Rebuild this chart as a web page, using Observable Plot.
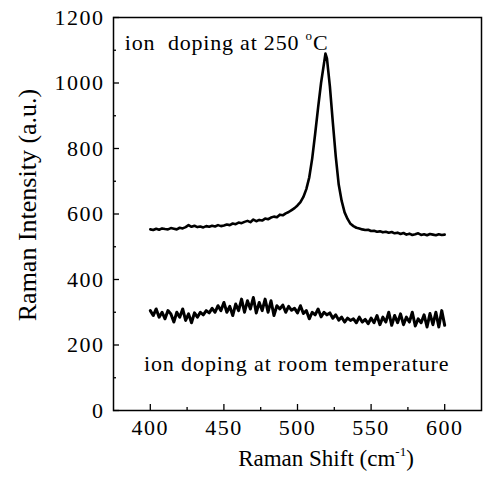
<!DOCTYPE html>
<html>
<head>
<meta charset="utf-8">
<script src="https://cdn.jsdelivr.net/npm/d3@7"></script>
<script src="https://cdn.jsdelivr.net/npm/@observablehq/plot@0.6"></script>
<style>
  html, body { margin: 0; padding: 0; background: white; }
  svg text { font-family: "Liberation Serif", "DejaVu Serif", serif; }
</style>
</head>
<body>
<div id="chart"></div>
<script>
// ---- data ----
const xDomain = [375, 625];
const yDomain = [0, 1200];
const xMajorTicks = [400, 450, 500, 550, 600];
const xMinorTicks = [425, 475, 525, 575];
const yMajorTicks = [0, 200, 400, 600, 800, 1000, 1200];
const yMinorTicks = [100, 300, 500, 700, 900, 1100];

// ion doping at 250 °C
const hotShift = [400,402,404,406,408,410,412,414,416,418,420,422,424,426,428,430,432,434,436,438,440,442,444,446,448,450,452,454,456,458,460,462,464,466,468,470,472,474,476,478,480,482,484,486,488,490,492,494,496,498,500,502,504,506,508,510,512,514,516,518,519,520,522,524,526,528,530,532,534,536,538,540,542,544,546,548,550,552,554,556,558,560,562,564,566,568,570,572,574,576,578,580,582,584,586,588,590,592,594,596,598,600];
const hotIntensity = [553,551,555,552,556,554,553,557,555,553,558,556,560,566,561,564,560,562,559,563,561,564,562,566,563,565,568,566,571,569,574,572,576,579,575,583,578,582,580,586,584,589,592,590,598,596,602,606,612,618,626,636,652,676,712,770,845,925,1000,1060,1090,1075,990,880,775,690,640,605,585,570,563,558,556,553,551,552,548,549,546,547,544,546,543,545,541,543,539,542,537,540,536,538,541,536,538,535,539,537,535,538,536,537];

// ion doping at room temperature
const roomShift = [400,402,404,406,408,410,412,414,416,418,420,422,424,426,428,430,432,434,436,438,440,442,444,446,448,450,452,454,456,458,460,462,464,466,468,470,472,474,476,478,480,482,484,486,488,490,492,494,496,498,500,502,504,506,508,510,512,514,516,518,520,522,524,526,528,530,532,534,536,538,540,542,544,546,548,550,552,554,556,558,560,562,564,566,568,570,572,574,576,578,580,582,584,586,588,590,592,594,596,598,600];
const roomIntensity = [305,290,310,285,300,280,305,295,270,300,285,310,275,295,268,298,285,300,292,305,298,312,300,320,305,330,300,318,290,325,305,340,300,335,310,345,298,330,305,340,300,335,290,320,310,322,300,318,306,312,298,320,296,305,280,300,292,310,286,300,292,298,282,292,276,285,270,282,275,280,268,285,270,278,265,282,268,290,262,285,270,300,260,290,268,295,262,285,270,300,258,280,268,292,255,296,262,300,255,305,260];

const labelHot = ["ion  doping at 250 ", "o", "C"];
const labelRoom = "ion doping at room temperature";
const labelHotPos = [383, 1124];
const labelRoomPos = [396, 143];
const xTitle = ["Raman Shift (cm", "-1", ")"];
const yTitle = "Raman Intensity (a.u.)";

const hot = hotShift.map((x, i) => ({x, y: hotIntensity[i]}));
const room = roomShift.map((x, i) => ({x, y: roomIntensity[i]}));

const W = 489, H = 479, mL = 113, mR = 8, mT = 17, mB = 69;

const plot = Plot.plot({
  width: W, height: H,
  marginLeft: mL, marginRight: mR, marginTop: mT, marginBottom: mB,
  x: {domain: xDomain, label: null},
  y: {domain: yDomain, label: null},
  style: {fontFamily: "Liberation Serif", fontSize: "22px", color: "black", background: "white"},
  marks: [
    Plot.axisX({ticks: xMajorTicks, tickSize: -6, text: null, label: null, strokeWidth: 1.3}),
    Plot.axisX({ticks: xMinorTicks, tickSize: -3, text: null, label: null, strokeWidth: 1.3}),
    Plot.axisX({ticks: xMajorTicks, tickSize: 0, tickPadding: 9, label: null, fontSize: 22, tickFormat: d => String(d)}),
    Plot.axisY({ticks: yMajorTicks, tickSize: -6, text: null, label: null, strokeWidth: 1.3}),
    Plot.axisY({ticks: yMinorTicks, tickSize: -3, text: null, label: null, strokeWidth: 1.3}),
    Plot.axisY({ticks: yMajorTicks, tickSize: 0, tickPadding: 9, label: null, fontSize: 22, tickFormat: d => String(d)}),
    Plot.frame({stroke: "black", strokeWidth: 1.5}),
    Plot.line(hot, {x: "x", y: "y", stroke: "black", strokeWidth: 2.6}),
    Plot.line(room, {x: "x", y: "y", stroke: "black", strokeWidth: 3})
  ]
});

document.getElementById("chart").appendChild(plot);

const sx = plot.scale("x"), sy = plot.scale("y");
const svg = d3.select(plot);
svg.selectAll("g[aria-label='y-axis tick label'] text, g[aria-label='x-axis tick label'] text")
  .style("letter-spacing", "1.5px");

// annotation: 250 °C
const t1 = svg.append("text")
  .attr("x", sx.apply(labelHotPos[0]))
  .attr("y", sy.apply(labelHotPos[1]))
  .attr("dy", "0.35em")
  .attr("text-anchor", "start")
  .attr("font-size", 22)
  .attr("fill", "black")
  .style("letter-spacing", "0.8px")
  .style("white-space", "pre");
t1.append("tspan").text(labelHot[0]);
t1.append("tspan").attr("font-size", 13).attr("dy", "-0.7em").text(labelHot[1]);
t1.append("tspan").attr("dy", "0.42em").text(labelHot[2]);

// annotation: room temperature
svg.append("text")
  .attr("x", sx.apply(labelRoomPos[0]))
  .attr("y", sy.apply(labelRoomPos[1]))
  .attr("dy", "0.35em")
  .attr("text-anchor", "start")
  .attr("font-size", 22)
  .attr("fill", "black")
  .style("letter-spacing", "0.9px")
  .text(labelRoom);

// x title
const xt = svg.append("text")
  .attr("x", 326)
  .attr("y", H - 13)
  .attr("text-anchor", "middle")
  .attr("font-size", 23)
  .attr("fill", "black");
xt.append("tspan").text(xTitle[0]);
xt.append("tspan").attr("font-size", 13).attr("dy", "-0.75em").text(xTitle[1]);
xt.append("tspan").attr("dy", "0.42em").text(xTitle[2]);

// y title
svg.append("text")
  .attr("transform", `translate(27, 205) rotate(-90)`)
  .attr("text-anchor", "middle")
  .attr("dy", "0.35em")
  .attr("font-size", 26)
  .attr("fill", "black")
  .text(yTitle);
</script>
</body>
</html>
